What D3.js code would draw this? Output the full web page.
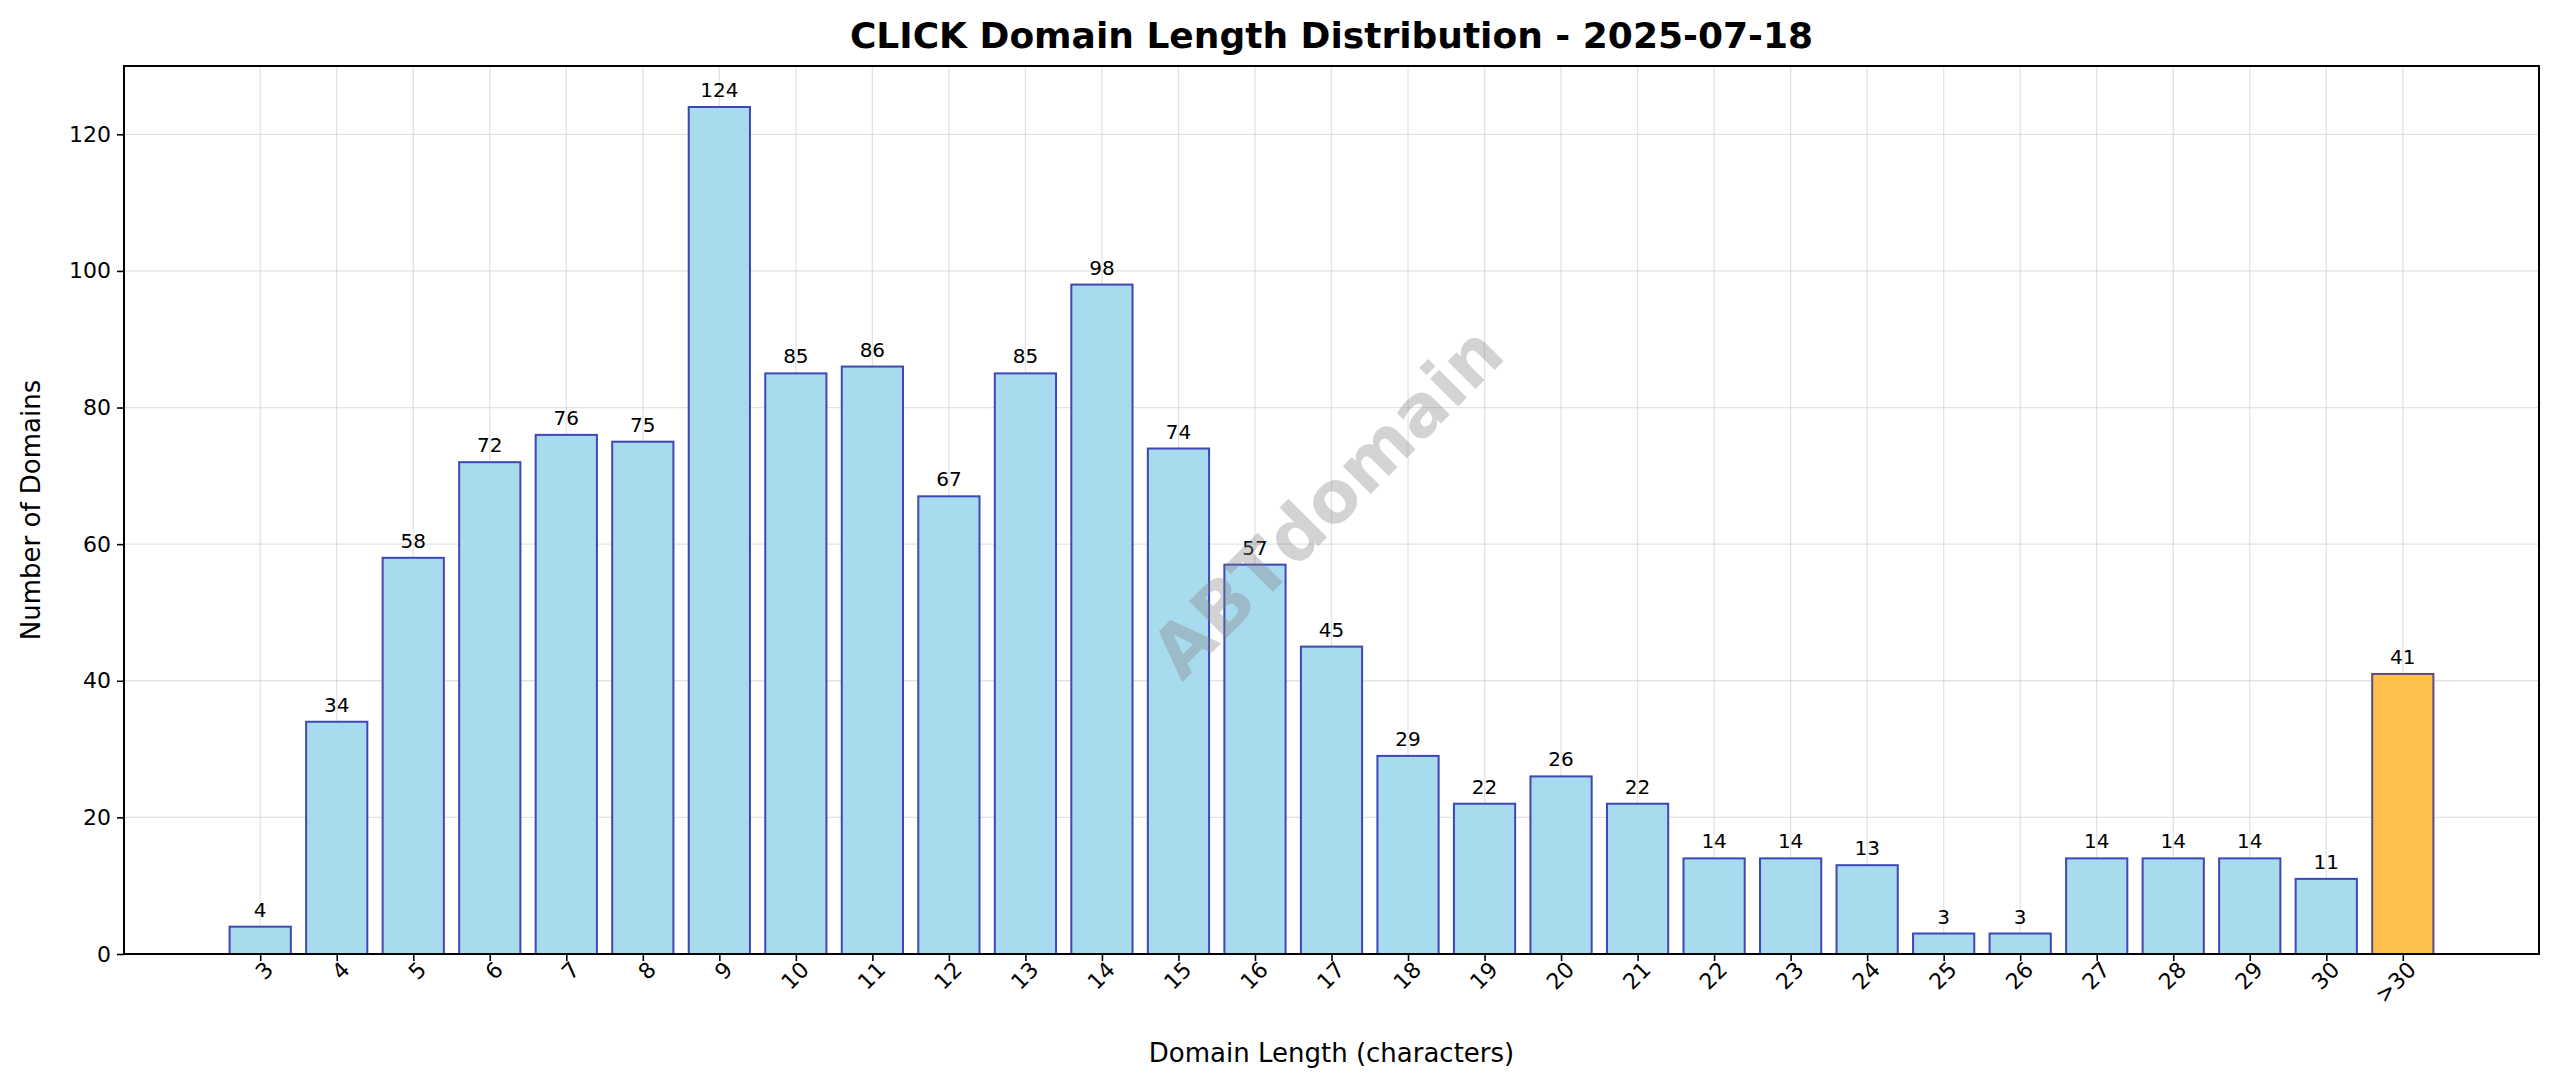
<!DOCTYPE html>
<html>
<head>
<meta charset="utf-8">
<script src="https://cdn.jsdelivr.net/npm/d3@7"></script>
<style>
  body { margin: 0; background: #fff; }
  text { font-family: "DejaVu Sans", sans-serif; }
</style>
</head>
<body>
<svg id="chart" width="2560" height="1087"></svg>
<script>
const categories = ['3','4','5','6','7','8','9','10','11','12','13','14','15','16','17','18','19','20','21','22','23','24','25','26','27','28','29','30','>30'];
const counts = [4,34,58,72,76,75,124,85,86,67,85,98,74,57,45,29,22,26,22,14,14,13,3,3,14,14,14,11,41];
const yTicks = [0,20,40,60,80,100,120];

const margin = { top: 66, right: 21, bottom: 133, left: 124 };
const W = 2560, H = 1087;
const iw = W - margin.left - margin.right;
const ih = H - margin.top - margin.bottom;

const svg = d3.select('#chart');
const g = svg.append('g').attr('transform', `translate(${margin.left},${margin.top})`);

const n = categories.length;
const x = d3.scaleLinear().domain([-1.78, n - 1 + 1.78]).range([0, iw]);
const y = d3.scaleLinear().domain([0, 130]).range([ih, 0]);

// grid
g.selectAll('.vgrid').data(categories).join('line')
  .attr('x1', (d, i) => x(i)).attr('x2', (d, i) => x(i))
  .attr('y1', 0).attr('y2', ih)
  .attr('stroke', '#b0b0b0').attr('stroke-opacity', 0.35).attr('stroke-width', 1.3);
g.selectAll('.hgrid').data(yTicks).join('line')
  .attr('x1', 0).attr('x2', iw)
  .attr('y1', d => y(d)).attr('y2', d => y(d))
  .attr('stroke', '#b0b0b0').attr('stroke-opacity', 0.35).attr('stroke-width', 1.3);

// bars
const bw = x(0.8) - x(0);
g.selectAll('.bar').data(counts).join('rect')
  .attr('x', (d, i) => x(i) - bw / 2)
  .attr('y', d => y(d))
  .attr('width', bw)
  .attr('height', d => y(0) - y(d))
  .attr('fill', (d, i) => categories[i] === '>30' ? '#ffbf4d' : '#a9dbee')
  .attr('stroke', (d, i) => categories[i] === '>30' ? '#5a4a8a' : '#3f46b5')
  .attr('stroke-width', 2);

g.selectAll('.val').data(counts).join('text')
  .attr('x', (d, i) => x(i))
  .attr('y', d => y(d) - 10)
  .attr('text-anchor', 'middle')
  .attr('font-size', 20)
  .text(d => d);

// watermark
g.append('text')
  .attr('transform', `translate(${1331 - margin.left},${506 - margin.top}) rotate(-45)`)
  .attr('text-anchor', 'middle').attr('dominant-baseline', 'middle')
  .attr('font-size', 72).attr('font-weight', 'bold')
  .attr('fill', '#808080').attr('fill-opacity', 0.35)
  .text('ABTdomain');

// axes
const xAxis = d3.axisBottom(x).tickValues(d3.range(n)).tickFormat(i => categories[i]).tickSize(7).tickPadding(4);
const gx = g.append('g').attr('transform', `translate(0,${ih})`).call(xAxis);
gx.selectAll('text')
  .attr('font-size', 22).attr('text-anchor', 'end')
  .attr('transform', 'rotate(-45)').attr('dx', '-0.1em').attr('dy', '0.5em');

const gy = g.append('g').call(d3.axisLeft(y).tickValues(yTicks).tickSize(7).tickPadding(6));
gy.selectAll('text').attr('font-size', 22);

[gx, gy].forEach(a => {
  a.select('.domain').remove();
  a.selectAll('line').attr('stroke', '#000').attr('stroke-width', 1.6);
  a.selectAll('text').attr('fill', '#000');
});

g.append('rect').attr('width', iw).attr('height', ih)
  .attr('fill', 'none').attr('stroke', '#000').attr('stroke-width', 2);

// labels
svg.append('text').attr('x', margin.left + iw / 2).attr('y', 48)
  .attr('text-anchor', 'middle').attr('font-size', 36).attr('font-weight', 'bold')
  .text('CLICK Domain Length Distribution - 2025-07-18');
svg.append('text').attr('x', margin.left + iw / 2).attr('y', 1062)
  .attr('text-anchor', 'middle').attr('font-size', 26)
  .text('Domain Length (characters)');
svg.append('text').attr('transform', `translate(40,${margin.top + ih / 2}) rotate(-90)`)
  .attr('text-anchor', 'middle').attr('font-size', 26)
  .text('Number of Domains');
</script>
</body>
</html>
